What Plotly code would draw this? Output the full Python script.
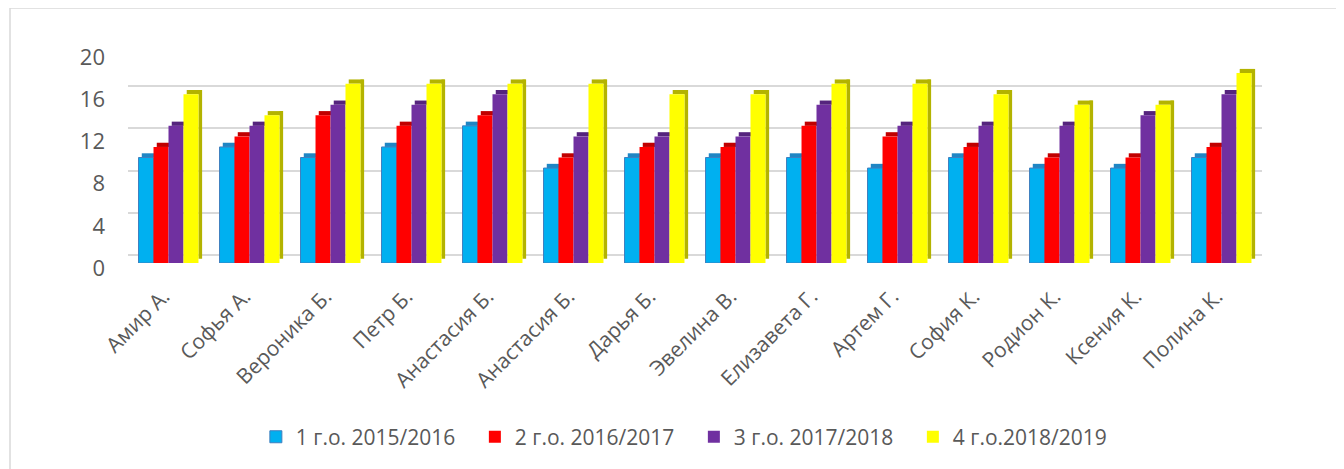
import plotly.graph_objects as go

names = ["Амир А.", "Софья А.", "Вероника Б.", "Петр Б.", "Анастасия Б.", "Анастасия Б.",
         "Дарья Б.", "Эвелина В.", "Елизавета Г.", "Артем Г.", "София К.", "Родион К.",
         "Ксения К.", "Полина К."]
series_names = ["1 г.о. 2015/2016", "2 г.о. 2016/2017", "3 г.о. 2017/2018", "4 г.о.2018/2019"]
y1 = [10, 11, 10, 11, 13, 9, 10, 10, 10, 9, 10, 9, 9, 10]
y2 = [11, 12, 14, 13, 14, 10, 11, 11, 13, 12, 11, 10, 10, 11]
y3 = [13, 13, 15, 15, 16, 12, 12, 12, 15, 13, 13, 13, 14, 16]
y4 = [16, 14, 17, 17, 17, 17, 16, 16, 17, 17, 16, 15, 15, 18]
yticks = [0, 4, 8, 12, 16, 20]

colors = ["#00b0f0", "#ff0000", "#7030a0", "#ffff00"]
side_colors = ["#1f86c4", "#c00000", "#55247d", "#b3b300"]
x = list(range(len(names)))
all_series = [y1, y2, y3, y4]

fig = go.Figure()
bw = 0.185
start = -0.37
cap_h = 0.4
# top caps (pseudo-3D), drawn first so front faces cover overlaps
for i, vals in enumerate(all_series):
    fig.add_trace(go.Bar(
        x=x, y=[cap_h] * len(vals), base=vals, marker_color=side_colors[i],
        marker_line_width=0, offset=start + i * bw + 0.04, width=bw,
        showlegend=False, hoverinfo="skip",
    ))
# side face of the last bar
fig.add_trace(go.Bar(
    x=x, y=y4, base=cap_h, marker_color=side_colors[3], marker_line_width=0,
    offset=start + 4 * bw, width=0.045, showlegend=False, hoverinfo="skip",
))
for i, (vals, nm) in enumerate(zip(all_series, series_names)):
    fig.add_trace(go.Bar(
        x=x, y=vals, name=nm, marker_color=colors[i],
        marker_line=dict(color="#3f7fbf" if i == 0 else colors[i], width=1 if i == 0 else 0),
        offset=start + i * bw, width=bw, showlegend=True,
    ))
# invisible trace for gridline axis
fig.add_trace(go.Scatter(x=[0], y=[0], yaxis="y2", mode="markers",
                         marker=dict(opacity=0), showlegend=False, hoverinfo="skip"))

fig.update_layout(
    width=1336, height=461,
    margin=dict(l=120, r=82, t=36, b=206),
    paper_bgcolor="white", plot_bgcolor="rgba(0,0,0,0)",
    barmode="overlay",
    font=dict(family="Open Sans", color="#595959", size=21),
    xaxis=dict(range=[-0.5, 13.5], tickvals=x, ticktext=names, tickangle=-45,
               showgrid=False, zeroline=False, showline=False, ticks="",
               tickfont=dict(size=21, color="#595959"), ticklabelstandoff=16,
               ticklabelshift=-5),
    yaxis=dict(range=[0, 20.76], tickvals=yticks, showgrid=False, zeroline=False,
               showline=False, ticks="", tickfont=dict(size=22, color="#595959"),
               ticklabelstandoff=22, ticklabelshift=5),
    yaxis2=dict(range=[-0.76, 20], overlaying="y", tickvals=yticks, showgrid=True,
                gridcolor="#d9d9d9", gridwidth=2, showticklabels=False, zeroline=False,
                showline=False, ticks=""),
    legend=dict(orientation="h", x=0.499, xanchor="center", y=-0.795, yanchor="middle",
                font=dict(size=21, color="#595959"), entrywidth=174, itemwidth=30,
                traceorder="normal", bgcolor="rgba(0,0,0,0)"),
    shapes=[dict(type="rect", xref="paper", yref="paper",
                 x0=(2 - 120) / 1134, x1=1.2, y0=(255 - 480) / 219, y1=(255 - 0) / 219,
                 line=dict(color="#d9d9d9", width=1.5), layer="below")],
)

fig.write_html("out.html")
